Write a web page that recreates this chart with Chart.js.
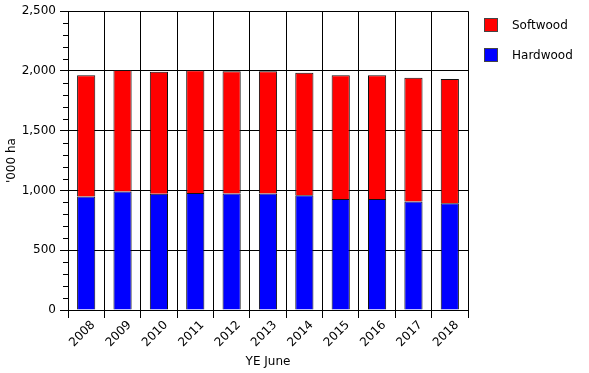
<!DOCTYPE html>
<html>
<head>
<meta charset="utf-8">
<script src="https://cdn.jsdelivr.net/npm/chart.js@4/dist/chart.umd.min.js"></script>
<style>
  html, body { margin: 0; padding: 0; background: #fff; }
  #wrap { position: relative; width: 589px; height: 373px; font-family: "DejaVu Sans", sans-serif; }
  .leg { position: absolute; left: 484px; height: 14px; font-size: 12px; color: #000; }
  .leg i { position: absolute; left: 0; top: 0; width: 12px; height: 12px; border: 1px solid #444; }
  .leg span { position: absolute; left: 28px; top: -1px; white-space: nowrap; line-height: 16px; }
</style>
</head>
<body>
<div id="wrap">
  <canvas id="c" width="589" height="373"></canvas>
  <div class="leg" style="top:18px"><i style="background:#ff0000"></i><span>Softwood</span></div>
  <div class="leg" style="top:48px"><i style="background:#0000ff"></i><span>Hardwood</span></div>
</div>
<script>
const years = ['2008', '2009', '2010', '2011', '2012', '2013', '2014', '2015', '2016', '2017', '2018'];
const hardwood = [950, 992, 972, 978, 975, 975, 961, 928, 928, 908, 894];
const softwood = [1014, 1016, 1022, 1028, 1022, 1022, 1025, 1036, 1036, 1036, 1039];

const FONT = { family: '"DejaVu Sans", sans-serif', size: 12 };

// Short minor ticks every 100 on the left axis.
const minorTicks = {
  id: 'minorTicks',
  afterDraw(chart) {
    const y = chart.scales.y, ctx = chart.ctx;
    ctx.save();
    ctx.strokeStyle = '#000';
    ctx.lineWidth = 1;
    for (let v = 0; v <= y.max; v += 100) {
      if (v % 500 === 0) continue;
      const py = Math.round(y.getPixelForValue(v)) + 0.5;
      ctx.beginPath();
      ctx.moveTo(y.right - 5, py); ctx.lineTo(y.right, py);
      ctx.stroke();
    }
    ctx.restore();
  }
};

new Chart(document.getElementById('c'), {
  type: 'bar',
  data: {
    labels: years,
    datasets: [
      { label: 'Hardwood', data: hardwood, backgroundColor: '#0000ff', borderColor: '#111', borderWidth: 1,
        barPercentage: 0.5, categoryPercentage: 1 },
      { label: 'Softwood', data: softwood, backgroundColor: '#ff0000', borderColor: '#111', borderWidth: 1,
        barPercentage: 0.5, categoryPercentage: 1 }
    ]
  },
  options: {
    responsive: false, animation: false,
    layout: { padding: { left: 0, right: 121, top: 10, bottom: 0 } },
    plugins: { legend: { display: false }, tooltip: { enabled: false } },
    scales: {
      x: {
        stacked: true,
        afterFit: s => { s.height = 63; },
        grid: { color: '#000', tickColor: '#000', tickLength: 8 },
        border: { color: '#000' },
        ticks: { font: FONT, color: '#000', minRotation: 45, maxRotation: 45, padding: 0, labelOffset: 7 },
        title: { display: true, text: 'YE June', font: FONT, color: '#000', padding: { top: 4, bottom: 4 } }
      },
      y: {
        stacked: true, min: 0, max: 2500,
        afterFit: s => { s.width = 68; },
        grid: { color: '#000', tickColor: '#000', tickLength: 8 },
        border: { color: '#000' },
        ticks: { font: FONT, color: '#000', stepSize: 500, padding: 4,
                 callback: v => v.toLocaleString('en-US') },
        title: { display: true, text: "'000 ha", font: FONT, color: '#000', padding: { top: 5, bottom: 4 } }
      }
    }
  },
  plugins: [minorTicks]
});
</script>
</body>
</html>
